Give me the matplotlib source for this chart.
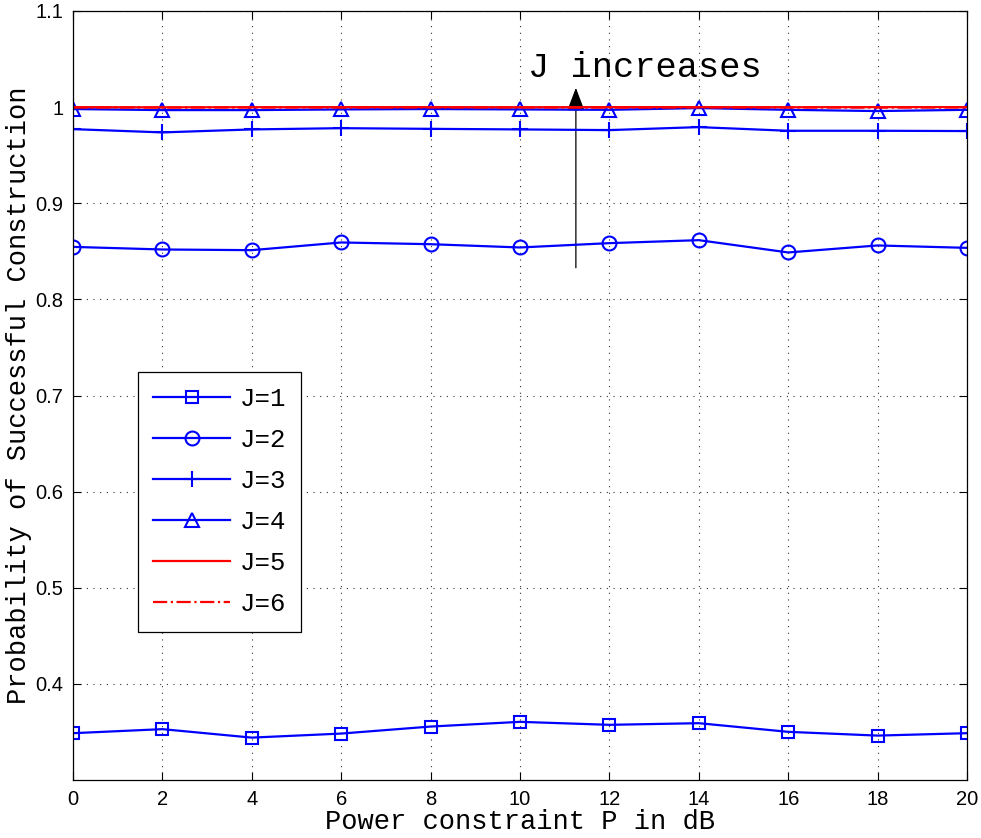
import numpy as np
import matplotlib.pyplot as plt
from matplotlib.patches import FancyArrowPatch

power_db = [0, 2, 4, 6, 8, 10, 12, 14, 16, 18, 20]
p_j1 = [0.3487, 0.3529, 0.3441, 0.3483, 0.3556, 0.3605, 0.3574, 0.3591, 0.3501, 0.3462, 0.3487]
p_j2 = [0.8546, 0.8519, 0.8512, 0.8592, 0.8574, 0.8540, 0.8585, 0.8616, 0.8488, 0.8561, 0.8536]
p_j3 = [0.9771, 0.9737, 0.9768, 0.9781, 0.9774, 0.9768, 0.9761, 0.9792, 0.9754, 0.9754, 0.9751]
p_j4 = [0.9980, 0.9969, 0.9969, 0.9976, 0.9980, 0.9976, 0.9972, 0.9990, 0.9972, 0.9959, 0.9972]
p_j5 = [1.0000, 0.9998, 0.9999, 1.0000, 1.0000, 0.9999, 1.0000, 1.0000, 0.9999, 1.0000, 1.0000]
p_j6 = [0.9996, 0.9995, 0.9996, 0.9996, 0.9997, 0.9996, 0.9995, 0.9997, 0.9996, 0.9995, 0.9996]
y_ticks = [0.4, 0.5, 0.6, 0.7, 0.8, 0.9, 1.0, 1.1]
y_ticklabels = ['0.4', '0.5', '0.6', '0.7', '0.8', '0.9', '1', '1.1']

mono = 'Liberation Mono'
sans = 'Liberation Sans'

fig = plt.figure(figsize=(9.81, 8.38), dpi=100)
fig.patch.set_facecolor('white')
ax = fig.add_axes([73/981, 1 - 780/838, (967-73)/981, (780-11)/838])

lw = 1.6
ax.plot(power_db, p_j1, color='blue', lw=lw, marker='s', ms=9, mfc='none', mew=1.5, label='J=1')
ax.plot(power_db, p_j2, color='blue', lw=lw, marker='o', ms=10, mfc='none', mew=1.5, label='J=2')
ax.plot(power_db, p_j3, color='blue', lw=lw, marker='+', ms=12, mew=1.5, label='J=3')
ax.plot(power_db, p_j4, color='blue', lw=lw, marker='^', ms=10, mfc='none', mew=1.5, label='J=4')
ax.plot(power_db, p_j5, color='red', lw=lw, ls='-', label='J=5')
ax.plot(power_db, p_j6, color='red', lw=lw, ls='-.', label='J=6')

ax.set_xlim(0, 20)
ax.set_ylim(0.3, 1.1)
ax.set_xticks(power_db)
ax.set_xticklabels([str(v) for v in power_db])
ax.set_yticks(y_ticks)
ax.set_yticklabels(y_ticklabels)
ax.tick_params(direction='in', length=6, width=0.8, top=True, right=True, pad=7,
               labelsize=14.5, labelfontfamily=sans)
ax.grid(True, linestyle=(0, (1, 5)), color='#333333', linewidth=0.8)
for spine in ax.spines.values():
    spine.set_edgecolor('black')
    spine.set_linewidth(0.9)

ax.set_xlabel('Power constraint P in dB', fontfamily=mono, fontsize=19.5, labelpad=0)
ax.set_ylabel('Probability of Successful Construction', fontfamily=mono, fontsize=19.5, labelpad=2)

arrow = FancyArrowPatch((11.25, 0.830), (11.25, 1.023),
                        arrowstyle='-|>,head_length=1.45,head_width=0.55',
                        mutation_scale=10, color='black', lw=0.9)
ax.add_patch(arrow)
ax.text(10.18, 1.0315, 'J increases', fontfamily=mono, fontsize=25.5,
        ha='left', va='baseline')

leg = ax.legend(loc='upper left', bbox_to_anchor=(0.0727, 0.5306),
                prop={'family': mono, 'size': 18.5}, fancybox=False,
                edgecolor='black', framealpha=1, handlelength=3.0,
                handletextpad=0.35, labelspacing=0.66, borderpad=0.6,
                borderaxespad=0)
leg.get_frame().set_linewidth(0.9)

plt.savefig('out.png', dpi=100, facecolor='white')
